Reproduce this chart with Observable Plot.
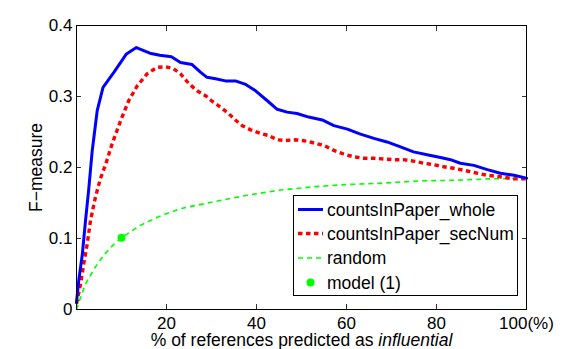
<!DOCTYPE html>
<html>
<head>
<meta charset="utf-8">
<script src="https://cdn.jsdelivr.net/npm/d3@7"></script>
<script src="https://cdn.jsdelivr.net/npm/@observablehq/plot@0.6"></script>
<style>
  body { margin: 0; background: white; }
  #chart { position: relative; width: 581px; height: 349px; }
</style>
</head>
<body>
<div id="chart"></div>
<script>
// ---- data ----
const wholeX = [0, 0.5, 1.3, 2.0, 2.7, 3.1, 3.5, 4.6, 5.9, 8.3, 11.1, 13.3, 16.3, 18.5, 21.1, 23.1, 25.7, 27.6, 29.0, 30.9, 33.1, 35.3, 37.6, 39.8, 42.4, 44.6, 46.8, 49.0, 51.6, 54.6, 57.2, 60.2, 63.1, 66.1, 69.0, 72.0, 74.9, 77.9, 80.9, 83.1, 85.3, 88.3, 91.3, 94.2, 97.2, 100];
const wholeY = [0.010, 0.041, 0.078, 0.125, 0.168, 0.196, 0.224, 0.280, 0.313, 0.334, 0.360, 0.369, 0.361, 0.358, 0.356, 0.348, 0.345, 0.334, 0.327, 0.325, 0.322, 0.322, 0.317, 0.308, 0.294, 0.282, 0.278, 0.276, 0.271, 0.267, 0.259, 0.254, 0.247, 0.241, 0.236, 0.229, 0.222, 0.218, 0.214, 0.211, 0.206, 0.203, 0.197, 0.192, 0.189, 0.185];

const secNumX = [0, 0.9, 1.6, 2.4, 3.1, 4.2, 5.3, 6.5, 7.9, 9.8, 11.6, 13.5, 15.7, 17.9, 19.8, 21.6, 23.1, 25.0, 26.8, 28.7, 30.2, 32.0, 33.8, 35.3, 36.8, 38.7, 40.9, 42.7, 44.6, 46.4, 48.7, 51.3, 53.1, 55.0, 57.2, 59.4, 61.6, 63.8, 66.1, 68.3, 70.5, 72.7, 74.9, 77.2, 79.4, 81.6, 83.8, 86.1, 88.3, 91.3, 94.2, 97.2, 100];
const secNumY = [0.008, 0.036, 0.064, 0.093, 0.125, 0.158, 0.184, 0.205, 0.233, 0.266, 0.294, 0.315, 0.332, 0.341, 0.342, 0.339, 0.332, 0.318, 0.308, 0.301, 0.293, 0.285, 0.276, 0.267, 0.259, 0.253, 0.248, 0.245, 0.239, 0.238, 0.239, 0.237, 0.234, 0.231, 0.224, 0.219, 0.215, 0.213, 0.213, 0.212, 0.211, 0.211, 0.209, 0.206, 0.204, 0.201, 0.199, 0.196, 0.193, 0.189, 0.187, 0.184, 0.184];

const randomX = [0, 1, 2, 4, 6, 8, 10, 14, 18, 23, 30, 38, 45, 53, 60, 68, 76, 84, 92, 100];
const randomY = [0, 0.019, 0.036, 0.058, 0.076, 0.090, 0.101, 0.118, 0.130, 0.142, 0.151, 0.161, 0.168, 0.173, 0.176, 0.178, 0.181, 0.182, 0.184, 0.185];

const modelX = [10];
const modelY = [0.101];

const xTicks = [20, 40, 60, 80, 100];
const xTickLabels = ["20", "40", "60", "80", "100(%)"];
const yTicks = [0, 0.1, 0.2, 0.3, 0.4];
const yTickLabels = ["0", "0.1", "0.2", "0.3", "0.4"];

const seriesNames = ["countsInPaper_whole", "countsInPaper_secNum", "random", "model (1)"];
const xLabelPlain = "% of references predicted as ";
const xLabelItalic = "influential";
const yLabel = "F\u2212measure";

// ---- build tables ----
const whole = wholeX.map((x, i) => ({x, y: wholeY[i]}));
const secNum = secNumX.map((x, i) => ({x, y: secNumY[i]}));
const random = randomX.map((x, i) => ({x, y: randomY[i]}));
const model = modelX.map((x, i) => ({x, y: modelY[i]}));

const BLUE = "#0000ff", RED = "#ff0000", GREEN = "#00ff00";
const FONT = "'Liberation Sans', Arial, Helvetica, sans-serif";
const tickColor = "#333";

const innerTicksX = xTicks.filter(d => d < 100);
const innerTicksY = yTicks.filter(d => d > 0 && d < 0.4);

const chart = Plot.plot({
  width: 581,
  height: 349,
  marginLeft: 76,
  marginRight: 55,
  marginTop: 25,
  marginBottom: 40,
  x: {domain: [0, 100]},
  y: {domain: [0, 0.4]},
  style: {fontFamily: FONT, fontSize: "17px", background: "white", color: "black", overflow: "visible"},
  marks: [
    Plot.line(random, {x: "x", y: "y", stroke: GREEN, strokeWidth: 1.6, strokeDasharray: "5,4", strokeLinecap: "butt"}),
    Plot.line(secNum, {x: "x", y: "y", stroke: RED, strokeWidth: 3.4, strokeDasharray: "4.5,3.5", strokeLinecap: "butt"}),
    Plot.line(whole, {x: "x", y: "y", stroke: BLUE, strokeWidth: 3}),
    Plot.dot(model, {x: "x", y: "y", r: 4, fill: GREEN, stroke: null}),
    // inward ticks
    Plot.axisX({anchor: "bottom", ticks: innerTicksX, tickSize: 5, dy: -5, tickFormat: () => "", label: null, stroke: tickColor}),
    Plot.axisX({anchor: "top", ticks: innerTicksX, tickSize: 5, dy: 5, tickFormat: () => "", label: null, stroke: tickColor}),
    Plot.axisY({anchor: "left", ticks: innerTicksY, tickSize: 5, dx: 5, tickFormat: () => "", label: null, stroke: tickColor}),
    Plot.axisY({anchor: "right", ticks: innerTicksY, tickSize: 5, dx: -5, tickFormat: () => "", label: null, stroke: tickColor}),
    // tick labels
    Plot.axisX({anchor: "bottom", ticks: xTicks, tickSize: 0, tickPadding: 7, fontSize: 17,
      tickFormat: d => xTickLabels[xTicks.indexOf(d)], label: null}),
    Plot.axisY({anchor: "left", ticks: yTicks, tickSize: 0, tickPadding: 4, fontSize: 17,
      tickFormat: d => yTickLabels[yTicks.indexOf(d)], label: null}),
    Plot.frame({stroke: "black", strokeWidth: 1}),
    // axis titles
    Plot.text([xLabelPlain + xLabelItalic], {frameAnchor: "bottom", lineAnchor: "middle", textAnchor: "middle", dy: 31, fontSize: 17.5, text: d => d}),
    Plot.text([yLabel], {frameAnchor: "left", lineAnchor: "middle", textAnchor: "middle", rotate: -90, dx: -40, fontSize: 17.5, text: d => d})
  ]
});

document.getElementById("chart").appendChild(chart);

// italic part of x label
const svg = d3.select(chart);
svg.selectAll("text").each(function() {
  if (this.textContent === xLabelPlain + xLabelItalic) {
    const t = d3.select(this);
    t.text(null);
    t.append("tspan").text(xLabelPlain);
    t.append("tspan").attr("font-style", "italic").text(xLabelItalic);
  }
});

// legend (box inside the plot area)
const lg = svg.append("g").attr("font-family", FONT).attr("font-size", 17.5).attr("text-anchor", "start");
const box = {x: 293.5, y: 195.5, w: 224, h: 100};
lg.append("rect").attr("x", box.x).attr("y", box.y).attr("width", box.w).attr("height", box.h)
  .attr("fill", "white").attr("stroke", "black").attr("stroke-width", 1);
const rowY = [209.5, 233.5, 258, 282.5];
const styles = [
  {stroke: BLUE, w: 3, dash: null},
  {stroke: RED, w: 3.4, dash: "4.5,3.5"},
  {stroke: GREEN, w: 1.6, dash: "5,4"},
  {dot: true}
];
seriesNames.forEach((name, i) => {
  const s = styles[i];
  if (s.dot) {
    lg.append("circle").attr("cx", 310.5).attr("cy", rowY[i]).attr("r", 4).attr("fill", GREEN);
  } else {
    lg.append("line").attr("x1", 298).attr("x2", 323).attr("y1", rowY[i]).attr("y2", rowY[i])
      .attr("stroke", s.stroke).attr("stroke-width", s.w).attr("stroke-dasharray", s.dash);
  }
  lg.append("text").attr("x", 327).attr("y", rowY[i]).attr("dy", "0.35em").attr("text-anchor", "start").text(name);
});
</script>
</body>
</html>
